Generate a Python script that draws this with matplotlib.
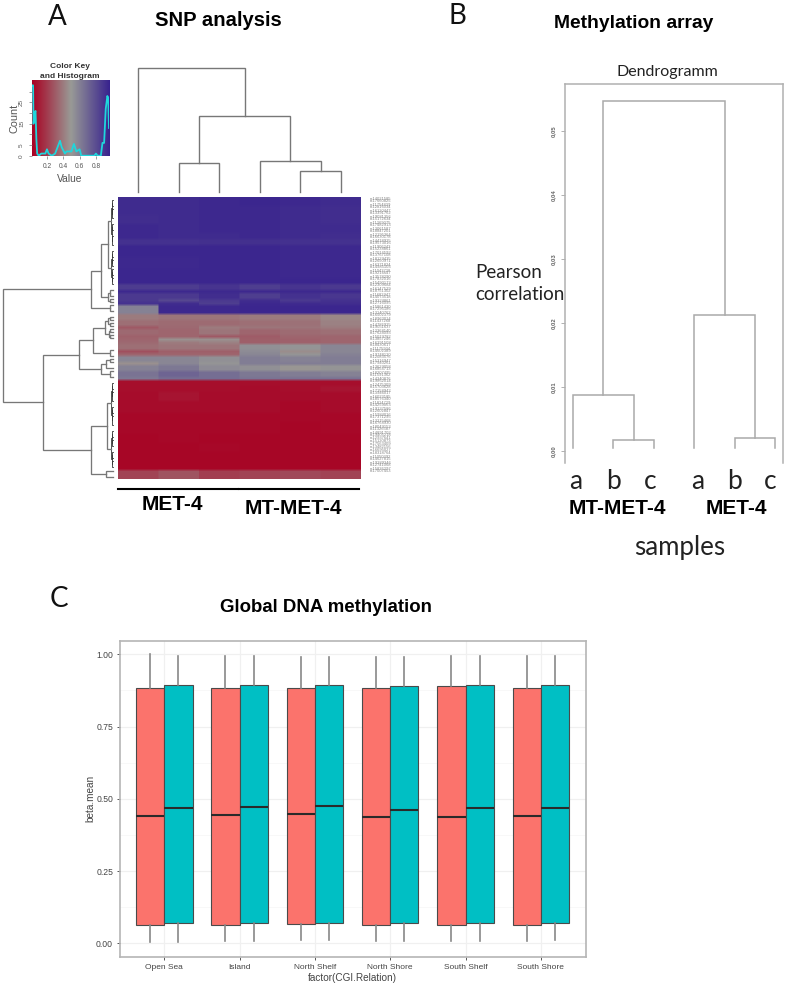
import numpy as np
import matplotlib
matplotlib.use("Agg")
import matplotlib.pyplot as plt
from matplotlib.colors import LinearSegmentedColormap

W, H = 787, 986

# ---------- data: SNP heatmap ----------
row_counts = [3,3,3,3,2,2,4,4,3,2,2,1,2,1,1,3,
              2,2,1,2,1,1,1,2,1,1,2,1,2,2,1,
              2,2,3,4,3,4,3,3,3,3,3]
row_values = [
 [.96,.96,.97,.98,.97,.96],[.96,.96,.97,.97,.96,.95],[.95,.96,.97,.97,.96,.95],
 [.97,.96,.97,.97,.96,.96],[.97,.96,.96,.97,.96,.95],[.93,.93,.94,.94,.93,.93],
 [.98,.98,.98,.98,.97,.97],[.97,.97,.98,.98,.97,.97],[.98,.98,.98,.98,.97,.97],
 [.98,.98,.98,.98,.98,.98],[.89,.89,.92,.88,.92,.90],[.97,.97,.97,.97,.97,.97],
 [.90,.90,.95,.88,.93,.91],[.90,.84,.90,.95,.90,.93],[.93,.95,.88,.97,.96,.95],
 [.60,.97,.97,.98,.98,.98],
 [.40,.38,.38,.40,.40,.44],[.36,.35,.35,.36,.37,.42],[.29,.34,.40,.38,.38,.40],
 [.34,.33,.38,.33,.35,.36],[.32,.33,.29,.30,.33,.33],[.33,.47,.47,.31,.32,.33],
 [.34,.40,.42,.31,.32,.33],[.36,.38,.38,.54,.52,.58],[.26,.31,.31,.56,.46,.58],
 [.33,.33,.33,.58,.52,.60],[.58,.58,.54,.62,.60,.62],[.47,.58,.52,.62,.62,.62],
 [.60,.64,.56,.54,.49,.52],[.66,.72,.68,.64,.62,.60],[.64,.68,.68,.66,.66,.66],
 [.05,.05,.05,.05,.05,.05],[.05,.05,.05,.04,.05,.07],[.04,.07,.04,.04,.04,.04],
 [.04,.04,.04,.04,.03,.04],[.03,.03,.03,.03,.03,.03],[.03,.03,.03,.03,.02,.03],
 [.02,.03,.02,.02,.02,.02],[.02,.02,.03,.02,.02,.02],[.02,.02,.02,.02,.02,.02],
 [.02,.02,.02,.02,.02,.02],[.22,.27,.20,.22,.24,.22],
]

# ---------- data: dendrograms (height, left, right); numbers are leaves ----------
snp_col_tree = (1.0, .5, (.616, (.233, 1.5, 2.5), (.251, 3.5, (.168, 4.5, 5.5))))

d1 = (.016, (.010, (.005, 1, 3), (.005, 4, 7)), (.010, (.005, 9, 11), (.005, 13, 16)))
d2 = (.016, (.010, (.005, 18, 20), (.005, 21, 23)), (.010, (.005, 24, 26), (.005, 27, 29)))
e_ = (.05, (.03, 31, 33), (.03, 34, 35))
upper = (.20, (.11, (.05, d1, d2), e_), (.03, 36, 38))
g1 = (.18, (.07, (.05, (.03, 40, 41), (.03, 42, 43)), (.04, (.03, 44, 45), (.03, 46, 47))),
      (.03, 51, 53))
g2 = (.11, (.06, (.03, 54, 55), 57), (.03, 58, 60))
i1 = (.016, (.010, (.005, 62, 64), (.005, 65, 68)), (.010, (.005, 70, 72), (.005, 73, 76)))
i2 = (.016, (.010, (.005, 78, 80), (.005, 81, 83)), (.010, (.005, 85, 87), (.005, 88, 90)))
lower = (.636, (.31, g1, g2), (.20, (.055, i1, i2), (.06, 91.5, 93.5)))
snp_row_tree = (1.0, upper, lower)

meth_tree = (.0547, (.0088, 1, (.0017, 2, 3)), (.0212, 4, (.0020, 5, 6)))
meth_leaf_bottom = .0005
meth_yticks = [0, .01, .02, .03, .04, .05]
meth_yticklabels = ["0,00", "0,01", "0,02", "0,03", "0,04", "0,05"]
meth_leaves = ["a", "b", "c", "a", "b", "c"]

# ---------- data: colour key histogram ----------
hist_x = [.02,.03,.035,.05,.06,.07,.08,.10,.13,.18,.20,.22,.26,.30,.33,.36,.38,.42,.44,
          .50,.53,.56,.60,.62,.78,.80,.82,.86,.88,.90,.92,.94,.95,.96]
hist_y = [33,33,15,20,21,8,1,0,1,1,3,1,0,1,4,7,4,1,2,
          2,5.5,2,3,0,0,1,0,0,6,6,22,28,27,13]

# ---------- data: SNP row labels (illegible in the source, estimated) ----------
snp_labels = """rs14021585 rs17660825 rs11754839 rs12816034 rs16120447 rs13391762 rs19081356 rs15172634
rs11269075 rs17482913 rs13061587 rs18847201 rs12195364 rs16630178 rs14418925 rs19573016 rs11906243
rs15238861 rs17014592 rs13767108 rs18129435 rs12650971 rs16371824 rs14985103 rs11043728 rs19216647
rs13578290 rs17832016 rs15490173 rs12309684 rs16147529 rs18751302 rs11682947 rs14073518 rs19324861
rs12716095 rs15861430 rs17295186 rs13140762 rs16502379 rs18963014 rs11437268 rs14786925 rs19051637
rs12368140 rs17624093 rs15019782 rs13857246 rs16291508 rs18430617 rs11175934 rs14602389 rs19748120
rs12083576 rs15316947 rs17940261 rs13629058 rs16854713 rs18207495 rs11591362 rs14340876 rs19862014
rs12475309 rs15703628 rs17158942 rs13946017 rs16023185 rs18576340 rs11814729 rs14259063 rs19137586
rs12602847 rs15984016 rs17371295 rs13215468 rs16768930 rs18049153 rs11326587 rs14891702 rs19405218
rs12937641 rs15120873 rs17563409 rs13482156 rs16695027 rs18318764 rs11050392 rs14627815 rs19289346
rs12741068 rs15836297 rs17007453""".split()

# ---------- data: global methylation boxes ----------
regions = ["Open Sea", "Island", "North Shelf", "North Shore", "South Shelf", "South Shore"]
met_q1  = [.063, .063, .067, .063, .063, .063]
met_med = [.440, .444, .447, .437, .437, .440]
met_q3  = [.885, .885, .885, .885, .889, .885]
met_lo  = [.003, .008, .012, .008, .008, .008]
met_hi  = [1.00, .995, .992, .992, .995, .995]
mt_q1   = [.069, .069, .069, .069, .069, .069]
mt_med  = [.468, .471, .474, .460, .468, .468]
mt_q3   = [.893, .893, .893, .890, .893, .893]
mt_lo   = [.004, .008, .012, .008, .008, .012]
mt_hi   = [.994, .995, .992, .992, .995, .995]
y_ticks = [0, .25, .5, .75, 1.0]

# ---------- helpers ----------
fig = plt.figure(figsize=(W / 100, H / 100), dpi=100, facecolor="white")


def axpx(x0, y0, x1, y1, **kw):
    return fig.add_axes([x0 / W, 1 - y1 / H, (x1 - x0) / W, (y1 - y0) / H], **kw)


def tpx(x, y, s, **kw):
    kw.setdefault("ha", "center")
    kw.setdefault("va", "center")
    return fig.text(x / W, 1 - y / H, s, **kw)


def walk(node, segs, bottom=0.0):
    """Return (position, height) of a node, collecting bracket segments."""
    if not isinstance(node, tuple):
        return float(node), bottom
    h, a, b = node
    pa, ha = walk(a, segs, bottom)
    pb, hb = walk(b, segs, bottom)
    segs.append(((pa, ha), (pa, h), (pb, h), (pb, hb), h))
    return (pa + pb) / 2, h


def clean(ax):
    ax.set_axis_off()
    ax.patch.set_alpha(0)


SANS = "Liberation Sans"
HUM = "Lato"
cmap = LinearSegmentedColormap.from_list(
    "key", [(0, "#a80022"), (.5, "#999a96"), (1, "#38228e")])

# ---------- panel A: heatmap ----------
ax = axpx(118, 197, 361, 479)
mat = np.repeat(np.array(row_values), row_counts, axis=0)
# columns stay crisp, rows soften like the scanned source
ax.imshow(np.repeat(mat, 40, axis=1), cmap=cmap, vmin=0, vmax=1, aspect="auto",
          interpolation="bilinear", extent=(0, 6, mat.shape[0], 0))
ax.set_xlim(0, 6)
ax.set_ylim(mat.shape[0], 0)
clean(ax)

for i, lab in enumerate(snp_labels):
    ax.text(6.22, i + .5, lab, fontsize=3.0, color="#858585", va="center", ha="left",
            family=SANS, clip_on=False)

# column dendrogram
ax = axpx(118, 68.3, 361, 191.7)
segs = []
walk(snp_col_tree, segs)
for p0, p1, p2, p3, h in segs:
    ax.plot([p0[0], p1[0], p2[0], p3[0]], [p0[1], p1[1], p2[1], p3[1]], color="#777777",
            lw=1.0, solid_joinstyle="miter", clip_on=False)
ax.set_xlim(0, 6)
ax.set_ylim(0, 1)
clean(ax)

# row dendrogram
ax = axpx(3.3, 197, 113, 479)
segs = []
walk(snp_row_tree, segs)
for p0, p1, p2, p3, h in segs:
    dense = h <= .02
    ax.plot([p0[1], p1[1], p2[1], p3[1]], [p0[0], p1[0], p2[0], p3[0]],
            color="#333333" if dense else "#777777", lw=.6 if dense else .95,
            solid_joinstyle="miter", clip_on=False)
ax.set_xlim(1, 0)
ax.set_ylim(94, 0)
clean(ax)

# colour key
ax = axpx(31.7, 80, 109, 155.7)
ax.imshow(np.linspace(0, 1, 256)[None, :], aspect="auto", cmap=cmap, vmin=0, vmax=1,
          extent=(.013, .96, 0, 35.5))
ax.plot(hist_x, hist_y, color="#1fd6dc", lw=1.3, clip_on=True)
ax.set_xlim(.013, .96)
ax.set_ylim(0, 35.5)
for s in ax.spines.values():
    s.set_visible(False)
ax.set_xticks([.2, .4, .6, .8])
ax.set_xticklabels(["0.2", "0.4", "0.6", "0.8"], fontsize=4.8, color="#555555", family=SANS)
ax.set_yticks([0, 5, 10, 15, 20, 25, 30])
ax.set_yticklabels(["0", "5", "", "15", "", "25", ""], fontsize=4.6, color="#555555",
                   rotation=90, va="center", family=SANS)
ax.tick_params(length=2.5, width=.5, color="#777777", pad=3)
tpx(70, 179, "Value", fontsize=7.4, color="#555555", family=SANS)
tpx(15, 118, "Count", fontsize=7.8, color="#555555", rotation=90, family=SANS)
tpx(70, 67, "Color Key", fontsize=6, fontweight="bold", color="#333333", family=SANS)
tpx(70, 76, "and Histogram", fontsize=6, fontweight="bold", color="#333333", family=SANS)

tpx(57, 17, "A", fontsize=20, family=HUM, color="#111111")
tpx(218, 21, "SNP analysis", fontsize=14.6, fontweight="bold", family=SANS)
fig.add_artist(plt.Line2D([118 / W, 237.7 / W], [1 - 488.7 / H] * 2, color="black", lw=1.5))
fig.add_artist(plt.Line2D([239.3 / W, 359 / W], [1 - 488.7 / H] * 2, color="black", lw=1.5))
tpx(172.7, 504, "MET-4", fontsize=15, fontweight="bold", family=SANS)
tpx(293, 509, "MT-MET-4", fontsize=15, fontweight="bold", family=SANS)

# ---------- panel B ----------
ax = axpx(565.3, 84, 783, 462.7)
segs = []
walk(meth_tree, segs, bottom=meth_leaf_bottom)
for p0, p1, p2, p3, h in segs:
    ax.plot([p0[0], p1[0], p2[0], p3[0]], [p0[1], p1[1], p2[1], p3[1]], color="#aaaaaa",
            lw=1.1, solid_joinstyle="miter")
ax.set_xlim(.81, 6.19)
ax.set_ylim(-.00183, .0573)
ax.spines["bottom"].set_visible(False)
for k in ("left", "right", "top"):
    ax.spines[k].set_color("#b0b0b0")
    ax.spines[k].set_linewidth(1.1)
ax.set_xticks([])
ax.set_yticks(meth_yticks)
ax.set_yticklabels(meth_yticklabels, rotation=90, fontsize=4.2, fontweight="bold",
                   color="#666666", va="center", family=SANS)
ax.tick_params(axis="y", length=3, width=.7, color="#b0b0b0", pad=4)
for xp, lab in zip(range(1, 7), meth_leaves):
    ax.text(xp + (.07 if xp in (1, 4) else 0) - (.12 if xp == 6 else 0) - (.1 if xp == 3 else 0),
            -.0048, lab, fontsize=19, family=HUM, color="#222222",
            ha="center", va="center", clip_on=False)

tpx(457, 16, "B", fontsize=20, family=HUM, color="#111111")
tpx(634, 24, "Methylation array", fontsize=13.9, fontweight="bold", family=SANS)
tpx(667, 72, "Dendrogramm", fontsize=11.5, family=HUM, color="#222222")
tpx(475.7, 273, "Pearson", fontsize=13.5, family=HUM, ha="left", color="#222222")
tpx(475.7, 295, "correlation", fontsize=13.5, family=HUM, ha="left", color="#222222")
tpx(617, 509, "MT-MET-4", fontsize=15, fontweight="bold", family=SANS)
tpx(736, 509, "MET-4", fontsize=15, fontweight="bold", family=SANS)
tpx(680, 547, "samples", fontsize=18.6, family=HUM, color="#222222")

# ---------- panel C ----------
ax = axpx(120, 641, 586, 956.7)
ax.set_axisbelow(True)
ax.grid(True, which="major", color="#f0f0f0", lw=.9)
ax.set_yticks([.125, .375, .625, .875], minor=True)
ax.grid(True, which="minor", axis="y", color="#f6f6f6", lw=.5)
ax.tick_params(axis="y", which="minor", length=0)
pos = np.arange(1, len(regions) + 1)


def stats(q1, med, q3, lo, hi):
    return [dict(q1=a, med=b, q3=c, whislo=d, whishi=e, fliers=[])
            for a, b, c, d, e in zip(q1, med, q3, lo, hi)]


for st, off, col in ((stats(met_q1, met_med, met_q3, met_lo, met_hi), -.1875, "#fb736c"),
                     (stats(mt_q1, mt_med, mt_q3, mt_lo, mt_hi), .1875, "#00bfc4")):
    ax.bxp(st, positions=pos + off, widths=.375, patch_artist=True, showcaps=False,
           showfliers=False, manage_ticks=False,
           boxprops=dict(facecolor=col, edgecolor="#4a4a4a", lw=.8),
           medianprops=dict(color="#2a2a2a", lw=1.5, solid_capstyle="butt"),
           whiskerprops=dict(color="#888888", lw=1.2))
ax.set_xlim(.412, 6.6)
ax.set_ylim((943.3 - 956.7) / 289, (943.3 - 641) / 289)
ax.set_xticks(pos)
ax.set_xticklabels(regions, fontsize=6, color="#444444", family=SANS)
ax.set_yticks(y_ticks)
ax.set_yticklabels(["0.00", "0.25", "0.50", "0.75", "1.00"], fontsize=6.2, color="#444444",
                   family=SANS)
ax.tick_params(axis="both", which="major", length=2.5, width=.7, color="#555555", pad=2.5)
for s in ax.spines.values():
    s.set_color("#b5b5b5")
    s.set_linewidth(1.2)

tpx(59, 599, "C", fontsize=20, family=HUM, color="#111111")
tpx(326, 607, "Global DNA methylation", fontsize=13.4, fontweight="bold", family=SANS)
tpx(90, 798, "beta.mean", fontsize=7.2, rotation=90, color="#444444", family=SANS)
tpx(352, 978, "factor(CGI.Relation)", fontsize=7.2, color="#444444", family=SANS)

fig.savefig("out.png", dpi=100)
